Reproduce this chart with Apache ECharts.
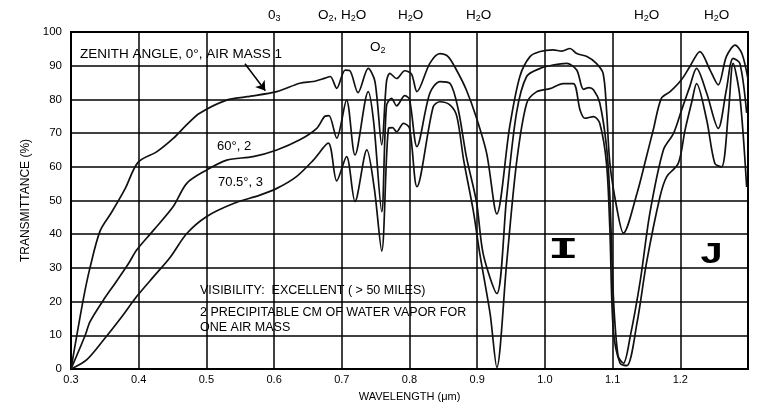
<!DOCTYPE html>
<html>
<head>
<meta charset="utf-8">
<script src="https://cdn.jsdelivr.net/npm/echarts@6/dist/echarts.min.js"></script>
<style>
  html, body { margin: 0; padding: 0; background: #fff; }
  .chart { width: 760px; height: 411px; }
</style>
</head>
<body>
<div class="chart"></div>
<script>
// 数据：天顶角 0° (大气质量 1)
var wl1 = [0.300, 0.318, 0.328, 0.343, 0.360, 0.380, 0.399, 0.427, 0.451, 0.471, 0.490, 0.530, 0.560, 0.604, 0.638, 0.658, 0.675, 0.683,
  0.6925, 0.705, 0.712, 0.724, 0.739, 0.749, 0.759, 0.766, 0.771, 0.781, 0.793, 0.803, 0.811, 0.830, 0.845, 0.857, 0.870, 0.884, 0.899,
  0.914, 0.929, 0.948, 0.963, 0.978, 0.993, 1.012, 1.025, 1.037, 1.047, 1.062, 1.076, 1.086, 1.091, 1.096, 1.106, 1.116, 1.136, 1.150,
  1.160, 1.172, 1.185, 1.202, 1.214, 1.229, 1.244, 1.256, 1.268, 1.281, 1.291, 1.300];
var t1 = [0, 20.5, 30, 41, 46.5, 53.5, 61.3, 64.5, 68.4, 72.5, 75.9, 79.8, 80.8, 82.3, 84.8, 85.3, 86.3, 86.8,
  83.3, 88.7, 88.5, 82, 89.2, 85.3, 66.5, 85.3, 87.7, 86.2, 88.5, 87.5, 82.3, 90.7, 93.6, 92.7, 88.5, 82.8, 74.5,
  64, 46, 71.9, 86.8, 92.7, 94.2, 94.7, 94.3, 95.1, 93.6, 92.7, 90.7, 87.7, 77, 61, 48, 40.3, 52.1, 63,
  70.9, 80.3, 82.3, 85.9, 89.7, 94.2, 88.7, 84.3, 92.7, 96.1, 93.6, 86];
// 60°, 2
var wl2 = [0.300, 0.321, 0.328, 0.348, 0.365, 0.385, 0.397, 0.422, 0.451, 0.471, 0.500, 0.530, 0.569, 0.604, 0.638, 0.663, 0.675, 0.681,
  0.6925, 0.707, 0.7195, 0.739, 0.747, 0.759, 0.766, 0.7735, 0.781, 0.793, 0.800, 0.811, 0.830, 0.845, 0.860, 0.872, 0.884, 0.899, 0.909,
  0.929, 0.9435, 0.958, 0.973, 0.993, 1.012, 1.032, 1.047, 1.057, 1.065, 1.072, 1.081, 1.091, 1.096, 1.101, 1.108, 1.116, 1.126, 1.141,
  1.155, 1.175, 1.190, 1.202, 1.214, 1.224, 1.239, 1.256, 1.268, 1.278, 1.288, 1.298];
var t2 = [0, 10, 14, 20.5, 25.4, 31.3, 35.3, 41.2, 48.2, 55.1, 59, 62, 63, 65, 68, 71.4, 75, 75.2,
  68.5, 79.8, 63.5, 82.3, 73.4, 46.7, 78.1, 80.3, 78.1, 81.1, 80, 66, 81.8, 85.3, 84.7, 77, 63, 49.5, 34,
  22.4, 51, 75.9, 86.8, 89.2, 90.2, 90.7, 88.7, 83, 83.5, 82.8, 79, 66, 51, 22, 4, 1.7, 9.6, 26.4,
  46.2, 65, 69.9, 76.9, 83.8, 89.2, 81.8, 71.4, 82.8, 92.2, 90.7, 76];
// 70.5°, 3
var wl3 = [0.300, 0.323, 0.348, 0.375, 0.397, 0.422, 0.446, 0.471, 0.500, 0.540, 0.579, 0.604, 0.633, 0.658, 0.680,
  0.6925, 0.707, 0.7195, 0.737, 0.748, 0.759, 0.769, 0.775, 0.781, 0.791, 0.800, 0.811, 0.835, 0.845, 0.860, 0.870, 0.880, 0.894, 0.904,
  0.919, 0.929, 0.9435, 0.958, 0.973, 0.988, 1.0075, 1.027, 1.042, 1.052, 1.059, 1.072, 1.081, 1.091, 1.096, 1.101, 1.111, 1.121,
  1.136, 1.150, 1.170, 1.180, 1.197, 1.207, 1.217, 1.224, 1.239, 1.251, 1.261, 1.271, 1.278, 1.288, 1.298];
var t3 = [0, 2.7, 8.6, 15.5, 21.5, 27.4, 33, 40.2, 45.2, 49.1, 51.6, 53.6, 57.1, 62, 67,
  55.8, 63, 49.7, 65, 53.6, 35, 71.4, 71.6, 70.4, 72.9, 71.5, 54.1, 77.8, 79.3, 78.3, 74.9, 62, 47.2, 34,
  16.5, 0.5, 31.4, 61, 78.8, 82.3, 83.2, 84.7, 84.7, 76.8, 74.4, 74.9, 72.9, 61, 41.2, 11.6, 1.7, 1,
  13.6, 31.4, 51.1, 57.1, 61, 70.9, 79.3, 84.7, 73.9, 61, 60, 75.9, 90.7, 80.8, 54];

var xTicks = ['0.3', '0.4', '0.5', '0.6', '0.7', '0.8', '0.9', '1.0', '1.1', '1.2'];
var yTicks = [0, 10, 20, 30, 40, 50, 60, 70, 80, 90, 100];

function pairs(xs, ys) {
  var out = [];
  for (var i = 0; i < xs.length; i++) out.push([xs[i], ys[i]]);
  return out;
}

(function () {
  var myChart = echarts.init(document.querySelector(".chart"));
  var font = 'Liberation Sans';
  var sub = {
    n: { fontSize: 13.5, fontFamily: font, color: '#000' },
    s: { fontSize: 9, fontFamily: font, color: '#000', padding: [8, 0, 0, 0] }
  };
  function txt(x, y, s, size) {
    return { type: 'text', left: x, top: y, style: { text: s, fill: '#000', font: (size || 13) + 'px ' + font } };
  }
  function richTxt(x, y, s) {
    return { type: 'text', left: x, top: y, style: { text: s, rich: sub, fill: '#000' } };
  }
  var curve = {
    type: 'line',
    showSymbol: false,
    smooth: 0.3,
    lineStyle: { color: '#111', width: 1.7 },
    silent: true
  };
  var option = {
    backgroundColor: '#fff',
    animation: false,
    grid: {
      left: 71, right: 12, top: 32, bottom: 42,
      show: true, borderColor: '#000', borderWidth: 2
    },
    xAxis: {
      type: 'value',
      min: 0.3, max: 1.3, interval: 0.1,
      name: 'WAVELENGTH (μm)',
      nameLocation: 'middle',
      nameGap: 22,
      nameTextStyle: { color: '#000', fontSize: 11, fontFamily: font },
      axisLine: { lineStyle: { color: '#000', width: 2 } },
      axisTick: { show: false },
      axisLabel: {
        color: '#000', fontSize: 11, fontFamily: font, margin: 5,
        formatter: function (v) {
          var k = Math.round((v - 0.3) * 10);
          return xTicks[k] || '';
        }
      },
      splitLine: { lineStyle: { color: '#000', width: 1.5 } }
    },
    yAxis: {
      type: 'value',
      min: 0, max: 100, interval: 10,
      name: 'TRANSMITTANCE (%)',
      nameLocation: 'middle',
      nameGap: 39,
      nameTextStyle: { color: '#000', fontSize: 12, fontFamily: font },
      axisLine: { lineStyle: { color: '#000', width: 2 } },
      axisTick: { show: false },
      axisLabel: {
        color: '#000', fontSize: 11.5, fontFamily: font, margin: 9,
        formatter: function (v) { return yTicks.indexOf(v) >= 0 ? String(v) : ''; }
      },
      splitLine: { lineStyle: { color: '#000', width: 1.5 } }
    },
    series: [
      Object.assign({}, curve, {
        name: '0°, 1',
        data: pairs(wl1, t1),
        markLine: {
          silent: true,
          symbol: ['none', 'arrow'],
          symbolSize: 9,
          label: { show: false },
          lineStyle: { color: '#000', width: 1.6, type: 'solid' },
          data: [[{ coord: [0.557, 90.6] }, { coord: [0.587, 82.6] }]]
        }
      }),
      Object.assign({}, curve, { name: '60°, 2', data: pairs(wl2, t2) }),
      Object.assign({}, curve, { name: '70.5°, 3', data: pairs(wl3, t3) })
    ],
    graphic: [
      txt(80, 47, 'ZENITH ANGLE, 0°, AIR MASS 1', 13.5),
      txt(217, 140, '60°, 2'),
      txt(218, 176, '70.5°, 3'),
      txt(200, 284, 'VISIBILITY:  EXCELLENT ( > 50 MILES)', 12.5),
      txt(200, 306, '2 PRECIPITABLE CM OF WATER VAPOR FOR', 12.5),
      txt(200, 321, 'ONE AIR MASS', 12.5),
      richTxt(268, 8, '{n|0}{s|3}'),
      richTxt(318, 8, '{n|O}{s|2}{n|, H}{s|2}{n|O}'),
      richTxt(398, 8, '{n|H}{s|2}{n|O}'),
      richTxt(466, 8, '{n|H}{s|2}{n|O}'),
      richTxt(634, 8, '{n|H}{s|2}{n|O}'),
      richTxt(704, 8, '{n|H}{s|2}{n|O}'),
      richTxt(370, 40, '{n|O}{s|2}'),
      { type: 'text', left: 548, top: 235, scaleX: 1.7, style: { text: 'I', fill: '#000', font: 'bold 30px "Liberation Mono"' } },
      { type: 'text', left: 699, top: 240, scaleX: 1.4, style: { text: 'J', fill: '#000', font: 'bold 30px "Liberation Mono"' } }
    ]
  };
  myChart.setOption(option);
  window.addEventListener('resize', function () {
    myChart.resize();
  });
})();
</script>
</body>
</html>
